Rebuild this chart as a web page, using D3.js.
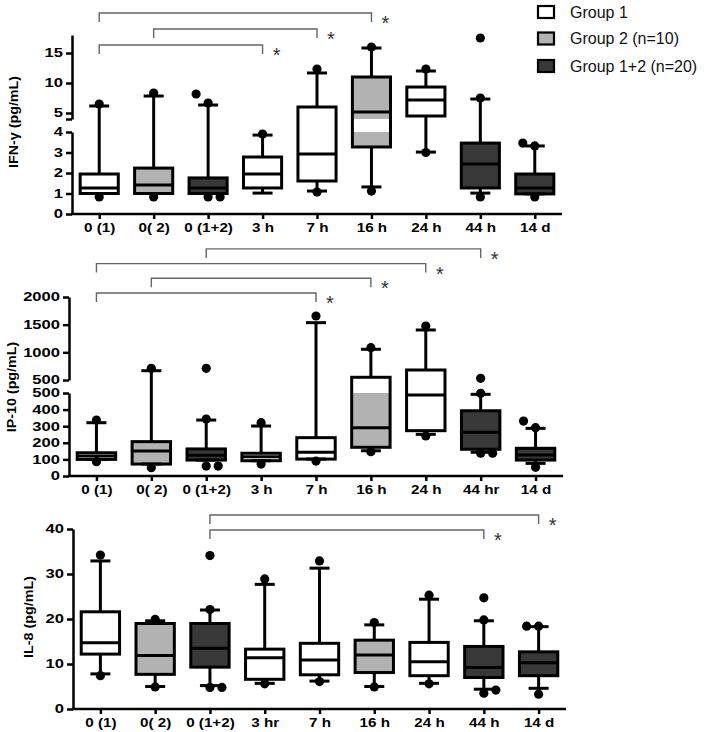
<!DOCTYPE html>
<html>
<head>
<meta charset="utf-8">
<script src="https://cdn.jsdelivr.net/npm/d3@7"></script>
<style>
  body { margin: 0; background: #fff; }
  text { font-family: "Liberation Sans", Arial, sans-serif; }
</style>
</head>
<body>
<svg id="chart" width="709" height="732"></svg>
<script>
// legend / groups
const groups = ["Group 1", "Group 2 (n=10)", "Group 1+2 (n=20)"];
const groupColors = ["#ffffff", "#b2b2b2", "#383838"];
const groupOf = [0, 1, 2, 0, 0, 1, 0, 2, 2];

// IFN-gamma
const ifnCats = ["0 (1)", "0( 2)", "0 (1+2)", "3 h", "7 h", "16 h", "24 h", "44 h", "14 d"];
const ifnLo  = [1.0, 1.0, 1.0, 1.02, 1.12, 1.32, 3.02, 1.02, 0.98];
const ifnQ1  = [1.0, 1.0, 1.0, 1.27, 1.61, 3.27, 4.5, 1.27, 0.98];
const ifnMed = [1.27, 1.41, 1.27, 1.95, 2.93, 5.17, 7.17, 2.44, 1.27];
const ifnQ3  = [1.95, 2.24, 1.76, 2.78, 6.0, 11.0, 9.33, 3.46, 1.95];
const ifnHi  = [6.17, 7.83, 6.33, 3.85, 11.67, 15.83, 12.0, 7.33, 3.32];
// [category index, value, side-by-side slot]
const ifnPts = [[0, 6.5, 0], [0, 0.83, 0], [1, 8.33, 0], [1, 0.83, 0],
  [2, 6.67, 0], [2, 8.17, -1], [2, 0.83, 0], [2, 0.83, 1], [3, 3.9, 0],
  [4, 12.33, 0], [4, 1.07, 0], [5, 16.0, 0], [5, 1.12, 0], [6, 12.33, 0], [6, 3.0, 0],
  [7, 7.5, 0], [7, 17.5, 0], [7, 0.83, 0], [8, 3.32, 0], [8, 3.46, -1], [8, 0.83, 0]];
const ifnBrackets = [[0, 3], [1, 4], [0, 5]];

// IP-10
const ipCats = ["0 (1)", "0( 2)", "0 (1+2)", "3 h", "7 h", "16 h", "24 h", "44 hr", "14 d"];
const ipLo  = [100, 72, 96, 92, 102, 152, 251, 143, 76];
const ipQ1  = [100, 72, 96, 92, 102, 173, 273, 161, 96];
const ipMed = [120, 150, 125, 116, 143, 291, 488, 263, 126];
const ipQ3  = [140, 207, 163, 137, 231, 549, 681, 393, 167];
const ipHi  = [321, 668, 337, 301, 1536, 1055, 1404, 492, 287];
const ipPts = [[0, 337, 0], [0, 86, 0], [1, 711, 0], [1, 50, 0], [2, 343, 0], [2, 711, 0],
  [2, 60, 0], [2, 60, 1], [3, 321, 0], [3, 72, 0], [4, 1657, 0], [4, 90, 0],
  [5, 1084, 0], [5, 146, 0], [6, 1476, 0], [6, 241, 0], [7, 498, 0], [7, 531, 0],
  [7, 137, 0], [7, 137, 1], [8, 291, 0], [8, 331, -1], [8, 52, 0]];
const ipBrackets = [[0, 4], [1, 5], [0, 6], [2, 7]];

// IL-8
const il8Cats = ["0 (1)", "0( 2)", "0 (1+2)", "3 hr", "7 h", "16 h", "24 h", "44 h", "14 d"];
const il8Lo  = [7.8, 5.0, 5.2, 5.7, 6.2, 5.0, 5.7, 4.4, 4.6];
const il8Q1  = [12.2, 7.7, 9.3, 6.6, 7.6, 8.1, 7.4, 7.0, 7.4];
const il8Med = [14.7, 11.9, 13.5, 11.4, 10.9, 12.0, 10.5, 9.2, 10.3];
const il8Q3  = [21.6, 19.0, 19.0, 13.3, 14.6, 15.3, 14.8, 13.9, 12.7];
const il8Hi  = [32.9, 19.6, 22.0, 27.7, 31.3, 18.7, 24.4, 19.6, 18.3];
const il8Pts = [[0, 34.2, 0], [0, 7.4, 0], [1, 19.9, 0], [1, 4.9, 0], [2, 22.1, 0], [2, 34.1, 0],
  [2, 4.8, 0], [2, 4.8, 1], [3, 28.9, 0], [3, 5.6, 0], [4, 32.9, 0], [4, 6.1, 0],
  [5, 19.2, 0], [5, 4.9, 0], [6, 25.3, 0], [6, 5.6, 0], [7, 19.8, 0], [7, 24.7, 0],
  [7, 3.5, 0], [7, 4.2, 1], [8, 18.4, 0], [8, 18.4, -1], [8, 3.3, 0]];
const il8Brackets = [[2, 7], [2, 8]];

const svg = d3.select("#chart");

// axis fonts in the figure are drawn wider than normal
function stretch(sel, k) {
  sel.each(function () {
    const len = this.getComputedTextLength();
    if (len > 0) d3.select(this).attr("textLength", len * k).attr("lengthAdjust", "spacingAndGlyphs");
  });
}

function makeY(segs) {
  const scales = segs.map((s) => d3.scaleLinear().domain(s.domain).range(s.range));
  const f = (v) => {
    for (const s of scales) {
      const d = s.domain();
      if (v >= d[0] && v <= d[1]) return s(v);
    }
    return scales[scales.length - 1](v);
  };
  return f;
}

function drawPanel(p) {
  const g = svg.append("g");
  const x = d3.scalePoint().domain(p.cats).range([p.x0, p.x1]).padding(0.5);
  const y = makeY(p.segs);
  const bw = x.step() * 0.7;
  const capW = 20;

  // y axis segments
  p.segs.forEach((s) => {
    const sc = d3.scaleLinear().domain(s.domain).range(s.range);
    const ax = g.append("g")
      .attr("transform", "translate(" + p.x0 + ",0)")
      .call(d3.axisLeft(sc).tickValues(s.ticks).tickSize(6).tickSizeOuter(0).tickPadding(3)
        .tickFormat((d) => (s.hide && s.hide.includes(d) ? "" : d)));
    ax.selectAll("path, line").attr("stroke", "#000").attr("stroke-width", 2.5);
    ax.selectAll("text").attr("font-size", "12px").attr("font-weight", "bold").attr("fill", "#000")
      .call(stretch, 1.38);
  });

  // x axis
  const y0 = y(0);
  const xa = g.append("g")
    .attr("transform", "translate(0," + y0 + ")")
    .call(d3.axisBottom(x).tickSize(5).tickSizeOuter(0).tickPadding(4));
  xa.select("path").attr("d", "M" + (p.x0 - 1) + ",0H" + p.x1);
  xa.selectAll("path, line").attr("stroke", "#000").attr("stroke-width", 2.5);
  xa.selectAll("text").attr("font-size", "13px").attr("font-weight", "bold").attr("fill", "#000")
    .call(stretch, 1.17);

  // y title
  g.append("text")
    .attr("transform", "translate(" + p.titleX + "," + p.titleY + ") rotate(-90)")
    .attr("text-anchor", "middle")
    .attr("dy", "0.35em")
    .attr("font-size", "13px")
    .attr("font-weight", "bold")
    .text(p.title)
    .call(stretch, 1.1);

  const idx = d3.range(p.cats.length);

  // whiskers
  g.selectAll(".whisk")
    .data(idx)
    .enter()
    .append("path")
    .attr("d", (i) => {
      const cx = x(p.cats[i]);
      return "M" + cx + "," + y(p.hi[i]) + "V" + y(p.q3[i]) + "M" + cx + "," + y(p.q1[i]) + "V" + y(p.lo[i]);
    })
    .attr("stroke", "#000")
    .attr("stroke-width", 3);

  // box fills
  g.selectAll(".box")
    .data(idx)
    .enter()
    .append("rect")
    .attr("x", (i) => x(p.cats[i]) - bw / 2)
    .attr("y", (i) => y(p.q3[i]))
    .attr("width", bw)
    .attr("height", (i) => y(p.q1[i]) - y(p.q3[i]))
    .attr("fill", (i) => groupColors[groupOf[i]]);

  // boxes crossing the axis break show a white band
  if (p.segs.length > 1) {
    const brk = p.segs[0].domain[1];
    const lowTop = p.segs[0].range[1];
    const upBot = p.segs[1].range[0];
    idx.filter((i) => p.q1[i] <= brk && p.q3[i] > brk).forEach((i) => {
      const top = p.fillUpper ? upBot : y(p.q3[i]);
      g.append("rect")
        .attr("x", x(p.cats[i]) - bw / 2)
        .attr("y", top)
        .attr("width", bw)
        .attr("height", lowTop - top)
        .attr("fill", "#fff");
    });
  }

  g.selectAll(".outline")
    .data(idx)
    .enter()
    .append("rect")
    .attr("x", (i) => x(p.cats[i]) - bw / 2)
    .attr("y", (i) => y(p.q3[i]))
    .attr("width", bw)
    .attr("height", (i) => y(p.q1[i]) - y(p.q3[i]))
    .attr("fill", "none")
    .attr("stroke", "#000")
    .attr("stroke-width", 3);

  // medians
  g.selectAll(".med")
    .data(idx)
    .enter()
    .append("line")
    .attr("x1", (i) => x(p.cats[i]) - bw / 2)
    .attr("x2", (i) => x(p.cats[i]) + bw / 2)
    .attr("y1", (i) => y(p.med[i]))
    .attr("y2", (i) => y(p.med[i]))
    .attr("stroke", "#000")
    .attr("stroke-width", 3);

  // caps
  const caps = [];
  idx.forEach((i) => {
    caps.push([i, p.hi[i]]);
    caps.push([i, p.lo[i]]);
  });
  g.selectAll(".cap")
    .data(caps)
    .enter()
    .append("line")
    .attr("x1", (d) => x(p.cats[d[0]]) - capW / 2)
    .attr("x2", (d) => x(p.cats[d[0]]) + capW / 2)
    .attr("y1", (d) => y(d[1]))
    .attr("y2", (d) => y(d[1]))
    .attr("stroke", "#000")
    .attr("stroke-width", 3);

  // points outside whiskers
  g.selectAll(".pt")
    .data(p.pts)
    .enter()
    .append("circle")
    .attr("cx", (d) => x(p.cats[d[0]]) + d[2] * 12)
    .attr("cy", (d) => y(d[1]))
    .attr("r", 4.6)
    .attr("fill", "#000");

  // significance brackets
  p.brackets.forEach((b, k) => {
    const by = p.bracketY - k * p.bracketGap;
    const xl = x(p.cats[b[0]]);
    const xr = x(p.cats[b[1]]);
    g.append("path")
      .attr("d", "M" + xl + "," + (by + 9) + "V" + by + "H" + xr + "V" + (by + 9))
      .attr("fill", "none")
      .attr("stroke", "#666")
      .attr("stroke-width", 1.4);
    g.append("text")
      .attr("x", xr + 14)
      .attr("y", by + 17)
      .attr("text-anchor", "middle")
      .attr("font-size", "20px")
      .attr("fill", "#333")
      .text("*");
  });
}

drawPanel({
  cats: ifnCats, lo: ifnLo, q1: ifnQ1, med: ifnMed, q3: ifnQ3, hi: ifnHi, pts: ifnPts,
  brackets: ifnBrackets, bracketY: 45, bracketGap: 16,
  x0: 72, x1: 562,
  segs: [
    { domain: [0, 4], range: [214, 132], ticks: [0, 1, 2, 3, 4] },
    { domain: [4, 18], range: [119, 35], ticks: [4, 5, 10, 15], hide: [4] }
  ],
  fillUpper: true,
  title: "IFN-γ (pg/mL)", titleX: 13, titleY: 122
});

drawPanel({
  cats: ipCats, lo: ipLo, q1: ipQ1, med: ipMed, q3: ipQ3, hi: ipHi, pts: ipPts,
  brackets: ipBrackets, bracketY: 293, bracketGap: 14.7,
  x0: 69, x1: 563,
  segs: [
    { domain: [0, 500], range: [476, 393], ticks: [0, 100, 200, 300, 400, 500] },
    { domain: [500, 2000], range: [380, 297], ticks: [500, 1000, 1500, 2000] }
  ],
  fillUpper: false,
  title: "IP-10  (pg/mL)", titleX: 11, titleY: 387
});

drawPanel({
  cats: il8Cats, lo: il8Lo, q1: il8Q1, med: il8Med, q3: il8Q3, hi: il8Hi, pts: il8Pts,
  brackets: il8Brackets, bracketY: 530, bracketGap: 15,
  x0: 73, x1: 566,
  segs: [{ domain: [0, 40], range: [709, 529], ticks: [0, 10, 20, 30, 40] }],
  title: "IL-8  (pg/mL)", titleX: 28, titleY: 617
});

// legend
const legend = svg.append("g").attr("transform", "translate(538,0)");
const rows = legend.selectAll("g")
  .data(groups)
  .enter()
  .append("g")
  .attr("transform", (d, i) => "translate(0," + [12, 38.5, 66][i] + ")");
rows.append("rect")
  .attr("x", 0)
  .attr("y", -6)
  .attr("width", 16)
  .attr("height", 12)
  .attr("fill", (d, i) => groupColors[i])
  .attr("stroke", "#000")
  .attr("stroke-width", 2.2);
rows.append("text")
  .attr("x", 32)
  .attr("y", 0)
  .attr("dy", "0.36em")
  .attr("font-size", "16px")
  .attr("fill", "#111")
  .text((d) => d);
</script>
</body>
</html>
